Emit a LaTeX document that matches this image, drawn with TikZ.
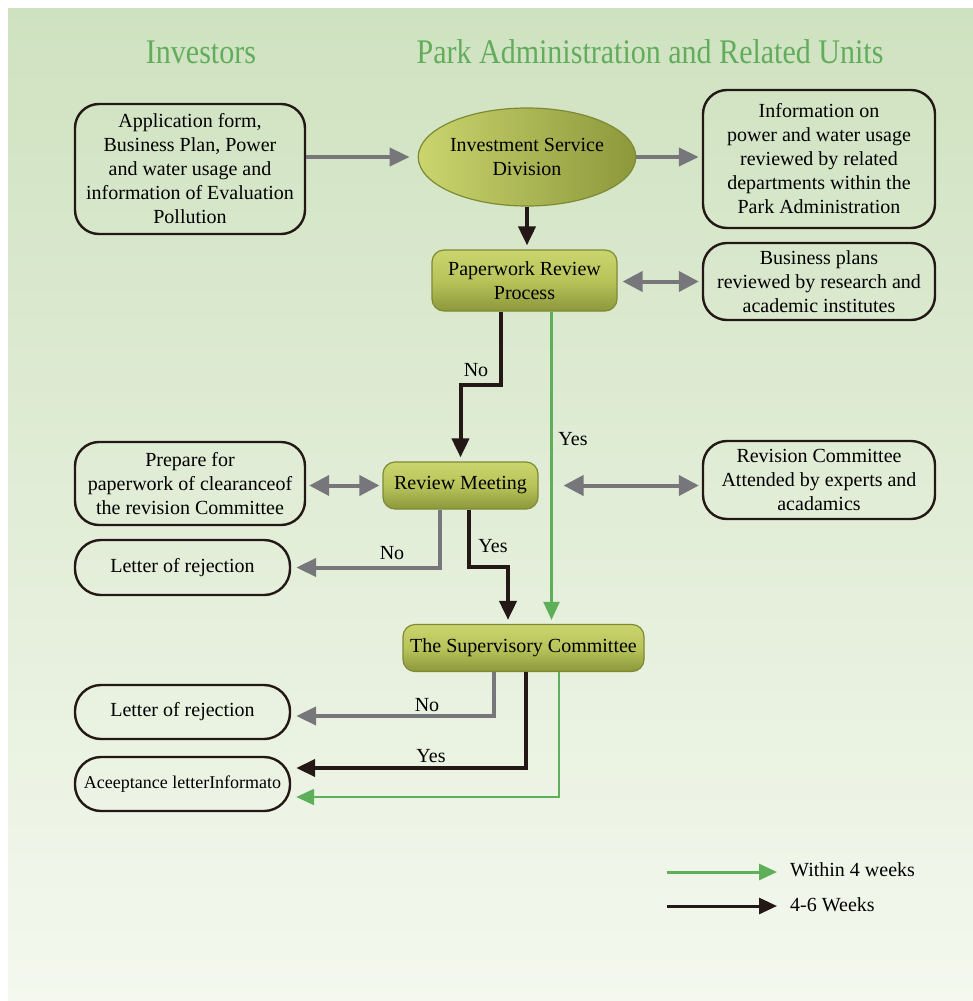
\documentclass[tikz,border=0pt]{standalone}
\usepackage{fontspec}
\setmainfont{Liberation Serif}
\newfontfamily\titlefont[FakeStretch=0.87]{Liberation Serif}
\usetikzlibrary{arrows.meta,shapes.geometric,calc}
\definecolor{bgtop}{HTML}{CFE2C0}
\definecolor{bgbot}{HTML}{F4F8EE}
\definecolor{boxline}{HTML}{231815}
\definecolor{arrgray}{HTML}{77767B}
\definecolor{flowblk}{HTML}{231815}
\definecolor{flowgrn}{HTML}{5EAF5A}
\definecolor{titlegrn}{HTML}{62AD5C}
\definecolor{olivelt}{HTML}{CAD56E}
\definecolor{olivemd}{HTML}{B8C45A}
\definecolor{olivedk}{HTML}{8C983B}
\definecolor{olivebd}{HTML}{7E8A33}
\newcommand\mainfs{\fontsize{20}{24}\selectfont}
\newcommand\smallfs{\fontsize{18}{22}\selectfont}
\newcommand\titlefs{\titlefont\fontsize{34.5}{38}\selectfont}
\tikzset{
  wbox/.style={draw=boxline, line width=2.4pt, rounded corners=24pt, align=center, inner sep=0pt, font=\mainfs},
  obox/.style={draw=olivebd, line width=1.2pt, rounded corners=12pt, top color=olivelt, bottom color=olivedk, middle color=olivemd, align=center, inner sep=0pt, font=\mainfs},
  oell/.style={ellipse, draw=olivebd, line width=1.2pt, left color=olivelt, right color=olivedk, align=center, inner sep=0pt, font=\mainfs},
  lbl/.style={font=\mainfs, inner sep=0pt},
  ttl/.style={font=\titlefs, text=titlegrn, inner sep=0pt},
  gry/.style={draw=arrgray, line width=4pt, -{Triangle[length=20pt,width=18pt]}},
  grydbl/.style={draw=arrgray, line width=4pt, {Triangle[length=20pt,width=20pt]}-{Triangle[length=20pt,width=20pt]}},
  blk/.style={draw=flowblk, line width=4pt, -{Triangle[length=19pt,width=17pt]}},
  grn/.style={draw=flowgrn, line width=2.2pt, -{Triangle[length=18pt,width=16pt]}},
}
\begin{document}
\begin{tikzpicture}[x=1pt,y=-1pt]
\useasboundingbox (0,0) rectangle (973,1001);
\fill[top color=bgtop, bottom color=bgbot] (8,8) rectangle (973,1001);

% titles
\node[ttl] (t1) at (201,52) {Investors};
\node[ttl] (t2) at (650,52) {Park Administration and Related Units};

% left boxes
\node[wbox, minimum width=230pt, minimum height=130pt] (A) at (190,169)
  {Application form,\\Business Plan, Power\\and water usage and\\information of Evaluation\\Pollution};
\node[wbox, minimum width=230pt, minimum height=83pt] (D) at (190,483.5)
  {Prepare for\\paperwork of clearanceof\\the revision Committee};
\node[wbox, minimum width=215pt, minimum height=55pt, rounded corners=26pt] (F) at (182.5,567.5) {Letter of rejection};
\node[wbox, minimum width=215pt, minimum height=54pt, rounded corners=26pt] (G) at (182.5,712) {Letter of rejection};
\node[wbox, minimum width=215pt, minimum height=54pt, rounded corners=26pt, font=\smallfs] (H) at (182.5,784) {Aceeptance letterInformato};

% right boxes
\node[wbox, minimum width=232pt, minimum height=138pt] (B) at (819,159)
  {Information on\\power and water usage\\reviewed by related\\departments within the\\Park Administration};
\node[wbox, minimum width=232pt, minimum height=77pt] (C) at (819,281.5)
  {Business plans\\reviewed by research and\\academic institutes};
\node[wbox, minimum width=232pt, minimum height=78pt] (E) at (819,480)
  {Revision Committee\\Attended by experts and\\acadamics};

% olive process nodes
\node[oell, minimum width=173pt, minimum height=98pt] (isd) at (527,157) {Investment Service\\Division};
\node[obox, minimum width=185pt, minimum height=61pt] (PRP) at (524.5,280.5) {Paperwork Review\\Process};
\node[obox, minimum width=155pt, minimum height=47pt] (RM) at (460.5,485.5) {Review Meeting};
\node[obox, minimum width=241pt, minimum height=47pt] (SC) at (523.5,648) {The Supervisory Committee};

% connectors
\draw[gry, shorten >=8pt] (A.east |- isd.west) -- (isd.west);
\draw[gry, shorten >=3pt] (isd.east) -- (B.west |- isd.east);
\draw[blk, shorten >=4pt] (isd.south) -- (isd.south |- PRP.north);
\draw[grydbl, shorten <=5pt, shorten >=3pt] (PRP.east |- C.west) -- (C.west);

\draw[blk, shorten >=4pt] ([xshift=-23.5pt]PRP.south) |- ($(RM.north)+(0,-76)$) -- (RM.north);
\node[lbl] (no1) at (476,370) {No};
\draw[grn, shorten >=4pt] ([xshift=27pt]PRP.south) -- ([xshift=27pt]PRP.south |- SC.north);
\node[lbl] (yes1) at (573,439) {Yes};

\draw[grydbl, shorten <=3pt, shorten >=3pt] (D.east |- RM.west) -- (RM.west);
\draw[grydbl, shorten <=25pt, shorten >=3pt] (RM.east) -- (E.west |- RM.east);

\draw[gry, shorten >=5pt] ([xshift=-20.5pt]RM.south) |- (F.east);
\node[lbl] (no2) at (392,553) {No};
\draw[blk, shorten >=4pt] ([xshift=8.5pt]RM.south) |- ($([xshift=-15.5pt]SC.north)+(0,-57)$) -- ([xshift=-15.5pt]SC.north);
\node[lbl] (yes2) at (493,546) {Yes};

\draw[gry, shorten >=5pt] ([xshift=-29.5pt]SC.south) |- ([yshift=-4pt]G.east);
\node[lbl] (no3) at (427,705) {No};
\draw[blk, shorten >=5pt] ([xshift=2.5pt]SC.south) |- ([yshift=16pt]H.east);
\node[lbl] (yes3) at (431,756) {Yes};
\draw[grn, shorten >=5pt] ([xshift=35.5pt]SC.south) |- ([yshift=-13pt]H.east);

% legend
\node[lbl, anchor=west] (lg1) at (790,870) {Within 4 weeks};
\node[lbl, anchor=west] (lg2) at (790,905) {4-6 Weeks};
\coordinate (ls1) at (667,872);
\coordinate (ls2) at (667,906);
\draw[grn, line width=3pt, shorten >=13pt] (ls1) -- (ls1 -| lg1.west);
\draw[blk, line width=3pt, -{Triangle[length=18pt,width=16pt]}, shorten >=13pt] (ls2) -- (ls2 -| lg2.west);
\end{tikzpicture}
\end{document}
